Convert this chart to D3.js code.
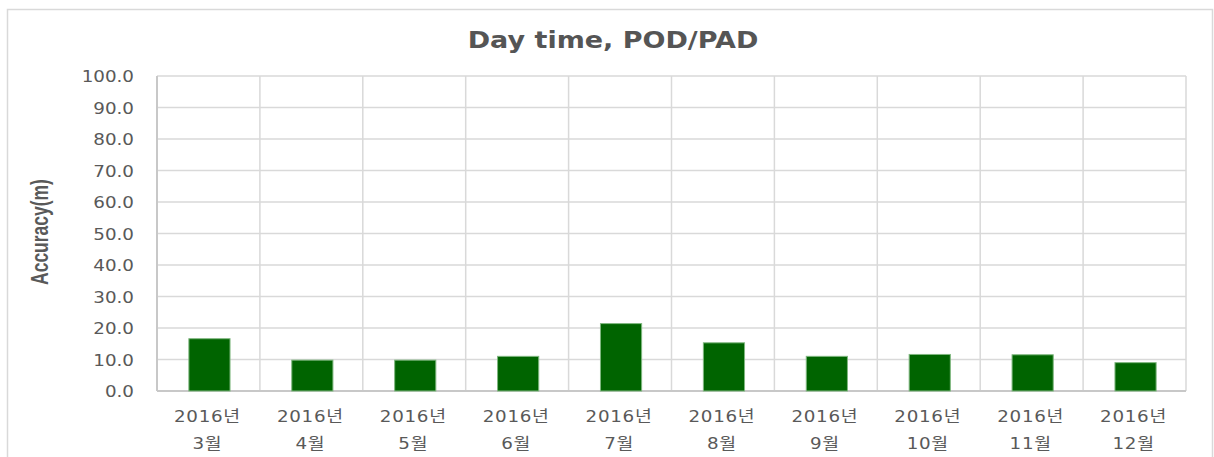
<!DOCTYPE html>
<html>
<head>
<meta charset="utf-8">
<script src="https://cdn.jsdelivr.net/npm/d3@7"></script>
<style>
  html, body { margin: 0; padding: 0; background: #fff; }
  svg { display: block; }
</style>
</head>
<body>
<div id="chart"></div>
<script>
// chart data
const years = ["2016년", "2016년", "2016년", "2016년", "2016년", "2016년", "2016년", "2016년", "2016년", "2016년"];
const months = ["3월", "4월", "5월", "6월", "7월", "8월", "9월", "10월", "11월", "12월"];
const accuracy = [16.6, 9.8, 9.8, 11.0, 21.4, 15.3, 11.0, 11.6, 11.5, 9.0];
const yTicks = [0, 10, 20, 30, 40, 50, 60, 70, 80, 90, 100];
const title = "Day time, POD/PAD";
const yLabel = "Accuracy(m)";

const width = 1214, height = 457;
const margin = {top: 76, right: 28, bottom: 66, left: 157};
const textColor = "#595959";
const gridColor = "#d9d9d9";
const stretch = 1.18; // the picture's text is a little wide

const svg = d3.select("#chart").append("svg")
    .attr("width", width)
    .attr("height", height);

// outer chart frame
svg.append("rect")
    .attr("x", 7.5).attr("y", 9.5)
    .attr("width", 1205).attr("height", 470)
    .attr("fill", "none")
    .attr("stroke", gridColor)
    .attr("stroke-width", 1.5);

const keys = d3.range(accuracy.length);

const x = d3.scaleBand()
    .domain(keys)
    .range([margin.left, width - margin.right])
    .paddingInner(0)
    .paddingOuter(0);

const y = d3.scaleLinear()
    .domain([0, 100])
    .range([height - margin.bottom, margin.top]);

// horizontal grid
svg.append("g")
    .selectAll("line")
    .data(yTicks)
    .join("line")
    .attr("x1", margin.left).attr("x2", width - margin.right)
    .attr("y1", d => y(d)).attr("y2", d => y(d))
    .attr("stroke", gridColor)
    .attr("stroke-width", 1.5);

// vertical grid on category boundaries
const bounds = keys.map(k => x(k)).concat([x(keys[keys.length - 1]) + x.bandwidth()]);
svg.append("g")
    .selectAll("line")
    .data(bounds)
    .join("line")
    .attr("x1", d => d).attr("x2", d => d)
    .attr("y1", y(100)).attr("y2", y(0))
    .attr("stroke", gridColor)
    .attr("stroke-width", 1.5);

// axis lines
svg.append("line")
    .attr("x1", margin.left).attr("x2", width - margin.right)
    .attr("y1", y(0)).attr("y2", y(0))
    .attr("stroke", "#c8c8c8").attr("stroke-width", 2);
svg.append("line")
    .attr("x1", margin.left).attr("x2", margin.left)
    .attr("y1", y(100)).attr("y2", y(0))
    .attr("stroke", "#c8c8c8").attr("stroke-width", 2);

// bars
const barW = x.bandwidth() * 0.4;
svg.append("g")
    .selectAll("rect")
    .data(accuracy)
    .join("rect")
    .attr("x", (d, i) => x(i) + (x.bandwidth() - barW) / 2 + 1)
    .attr("y", d => y(d))
    .attr("width", barW)
    .attr("height", d => y(0) - y(d))
    .attr("fill", "#006400")
    .attr("stroke", "#7fb77f")
    .attr("stroke-width", 1);

// y tick labels
svg.append("g")
    .selectAll("text")
    .data(yTicks)
    .join("text")
    .attr("transform", d => `translate(134,${y(d) + 6}) scale(${stretch},1)`)
    .attr("text-anchor", "end")
    .attr("font-family", "DejaVu Sans, Verdana, sans-serif")
    .attr("font-size", 15.5)
    .attr("fill", textColor)
    .text(d => d3.format(".1f")(d));

// x category labels, two lines
const xl = svg.append("g")
    .selectAll("g")
    .data(keys)
    .join("g")
    .attr("transform", k => `translate(${x(k) + x.bandwidth() / 2 - 1},0)`);

xl.append("text")
    .attr("transform", `translate(0,422) scale(${stretch},1)`)
    .attr("text-anchor", "middle")
    .attr("font-family", "DejaVu Sans, 'Noto Sans CJK KR', sans-serif")
    .attr("font-size", 15.5)
    .attr("letter-spacing", 0.6)
    .attr("fill", textColor)
    .text(k => years[k]);

xl.append("text")
    .attr("transform", `translate(0,448.5) scale(${stretch},1)`)
    .attr("text-anchor", "middle")
    .attr("font-family", "DejaVu Sans, 'Noto Sans CJK KR', sans-serif")
    .attr("font-size", 15.5)
    .attr("letter-spacing", 0.6)
    .attr("fill", textColor)
    .text(k => months[k]);

// title
svg.append("text")
    .attr("transform", `translate(613,48) scale(1.2,1)`)
    .attr("text-anchor", "middle")
    .attr("font-family", "DejaVu Sans, Verdana, sans-serif")
    .attr("font-weight", "bold")
    .attr("font-size", 22.5)
    .attr("fill", "#555555")
    .text(title);

// y axis title, narrow bold and rotated
svg.append("text")
    .attr("transform", `translate(48,232) scale(1.35,1) rotate(-90)`)
    .attr("text-anchor", "middle")
    .attr("font-family", "'Liberation Sans Narrow', 'Arial Narrow', sans-serif")
    .attr("font-weight", "bold")
    .attr("font-size", 17.5)
    .attr("fill", textColor)
    .text(yLabel);
</script>
</body>
</html>
